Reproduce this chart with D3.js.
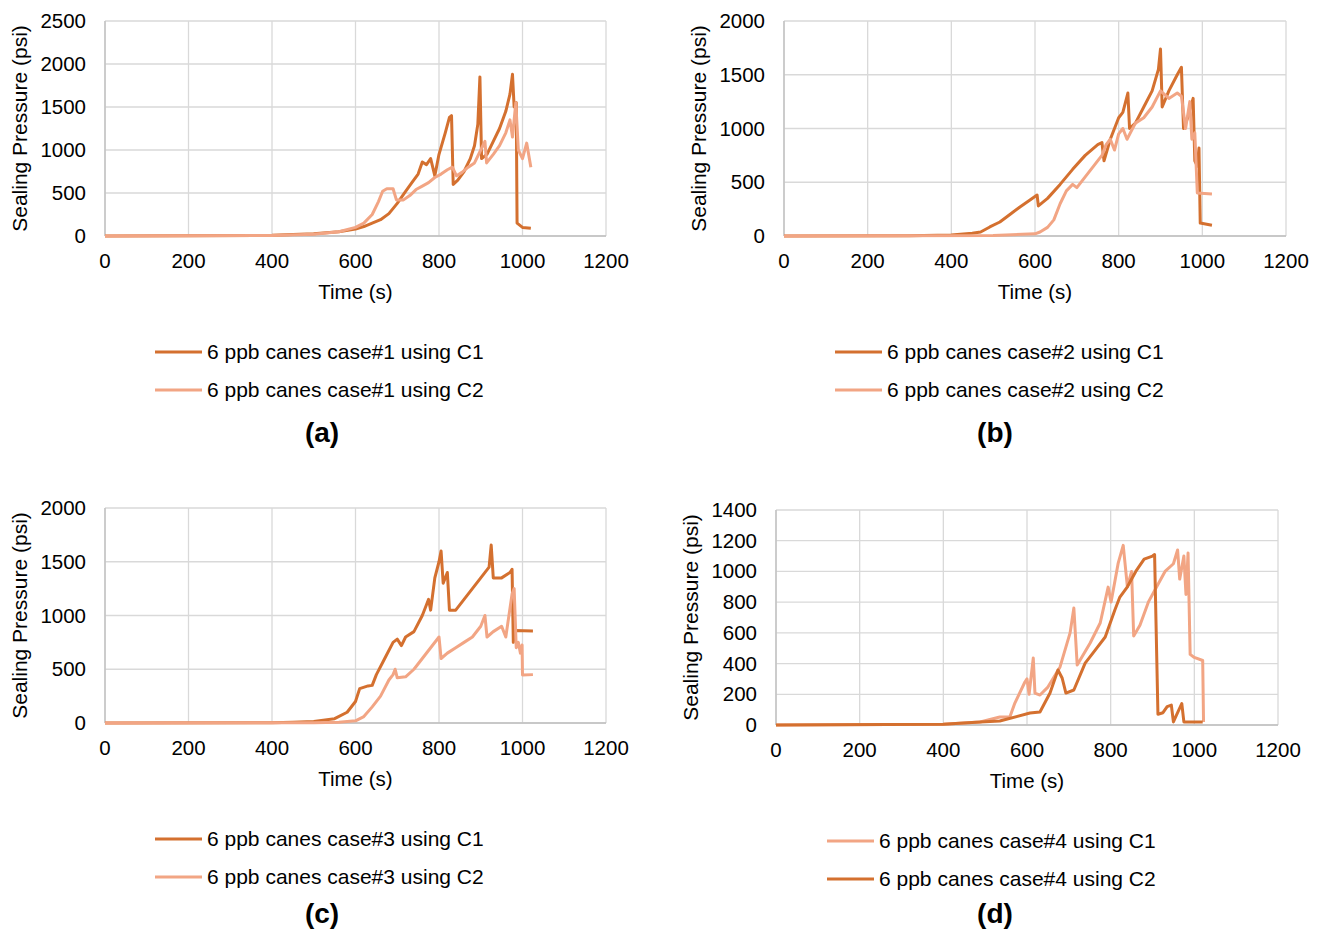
<!DOCTYPE html>
<html>
<head>
<meta charset="utf-8">
<script src="https://cdn.jsdelivr.net/npm/d3@7"></script>
<style>
  body { margin: 0; background: #fff; }
  svg text { font-family: "Liberation Sans", Arial, sans-serif; fill: #000; }
</style>
</head>
<body>
<div id="chart"></div>
<script>
// Data: [time (s), pressure (psi)]
const caseA_C1 = [[0,0],[200,2],[400,8],[500,25],[560,50],[600,80],[620,110],[640,150],[660,190],[680,260],[700,380],[720,520],[735,620],[750,720],[760,860],[770,830],[780,900],[790,700],[800,950],[815,1200],[825,1380],[830,1400],[834,600],[845,650],[860,750],[875,900],[885,1050],[893,1300],[898,1850],[902,900],[915,950],[930,1100],[945,1250],[960,1450],[970,1650],[976,1880],[980,1500],[985,1550],[987,150],[1000,100],[1020,90]];
const caseA_C2 = [[0,0],[400,5],[500,20],[560,50],[600,100],[620,150],[640,250],[655,400],[665,520],[675,550],[690,550],[698,420],[715,420],[730,470],[745,540],[760,580],[775,620],[790,680],[805,720],[820,770],[832,800],[842,700],[855,740],[870,800],[885,850],[900,1000],[910,1100],[914,850],[930,950],[945,1050],[960,1200],[970,1350],[976,1150],[984,1550],[990,1000],[1000,900],[1010,1080],[1020,800]];

const caseB_C1 = [[0,0],[300,3],[400,10],[450,25],[470,37],[492,84],[516,130],[540,200],[564,270],[588,335],[605,381],[608,280],[630,350],[660,480],[690,620],[720,750],[750,850],[760,870],[765,700],[780,900],[800,1100],[810,1150],[822,1330],[826,1000],[840,1050],[860,1200],[880,1350],[895,1550],[900,1740],[904,1200],[920,1350],[940,1500],[950,1570],[955,1000],[965,1100],[978,1280],[982,700],[988,650],[992,818],[995,120],[1023,100]];
const caseB_C2 = [[0,0],[500,5],[600,20],[612,37],[630,80],[645,150],[660,300],[675,420],[690,480],[700,450],[720,550],[740,650],[760,750],[770,850],[780,900],[790,800],[800,950],[810,1000],[820,900],[840,1050],[860,1100],[880,1200],[900,1350],[920,1280],[940,1330],[950,1300],[960,1000],[970,1250],[975,900],[982,960],[988,400],[1023,390]];

const caseC_C1 = [[0,0],[400,3],[450,8],[500,15],[550,40],[580,100],[600,200],[610,320],[630,345],[640,350],[650,450],[670,600],[690,750],[700,780],[710,720],[720,800],[740,850],[760,1000],[770,1100],[775,1150],[780,1050],[790,1350],[800,1500],[805,1600],[810,1300],[820,1400],[825,1050],[840,1050],[860,1150],[880,1250],[900,1350],[920,1450],[925,1655],[930,1350],[950,1350],[970,1400],[975,1430],[978,750],[981,860],[1025,856]];
const caseC_C2 = [[0,0],[500,3],[560,8],[600,20],[620,60],[640,150],[660,250],[680,400],[690,450],[695,500],[700,420],[720,430],[740,500],[760,600],[780,700],[800,800],[805,600],[820,650],[840,700],[860,750],[880,800],[900,900],[910,1000],[915,800],[930,850],[950,900],[960,800],[975,1200],[980,1250],[985,700],[990,750],[995,650],[999,725],[1000,446],[1025,450]];

const caseD_C1 = [[0,0],[400,5],[488,20],[535,52],[559,52],[571,143],[595,280],[600,300],[605,200],[615,436],[619,208],[631,195],[650,247],[679,378],[703,600],[712,762],[720,390],[751,534],[775,664],[794,898],[801,801],[818,1054],[830,1170],[840,900],[850,1000],[855,580],[870,650],[890,800],[910,900],[930,1000],[950,1050],[960,1140],[965,950],[975,1100],[980,850],[985,1120],[990,460],[1000,440],[1020,420],[1022,20]];
const caseD_C2 = [[0,0],[400,5],[488,20],[535,26],[607,78],[631,85],[655,208],[674,358],[684,306],[693,208],[712,228],[739,403],[763,488],[787,573],[810,749],[822,833],[840,900],[860,1000],[880,1080],[900,1100],[905,1110],[913,70],[925,80],[935,120],[945,130],[950,20],[960,80],[970,140],[975,20],[1020,20]];

const xTicks = [0, 200, 400, 600, 800, 1000, 1200];

const dark = "#D4702F",
    light = "#F2A584";

const svg = d3
    .select("#chart")
    .append("svg")
    .attr("width", 1322)
    .attr("height", 929);

// Panel layout
const panels = [
    { left: 105, right: 606, top: 21, bottom: 236, yMax: 2500, yStep: 500,
      series: [{ data: caseA_C1, color: dark, label: "6 ppb canes case#1 using C1" },
               { data: caseA_C2, color: light, label: "6 ppb canes case#1 using C2" }],
      legX: 155, legY: 352, capX: 322, capY: 432, cap: "(a)" },
    { left: 784, right: 1286, top: 21, bottom: 236, yMax: 2000, yStep: 500,
      series: [{ data: caseB_C1, color: dark, label: "6 ppb canes case#2 using C1" },
               { data: caseB_C2, color: light, label: "6 ppb canes case#2 using C2" }],
      legX: 835, legY: 352, capX: 995, capY: 432, cap: "(b)" },
    { left: 105, right: 606, top: 508, bottom: 723, yMax: 2000, yStep: 500,
      series: [{ data: caseC_C1, color: dark, label: "6 ppb canes case#3 using C1" },
               { data: caseC_C2, color: light, label: "6 ppb canes case#3 using C2" }],
      legX: 155, legY: 839, capX: 322, capY: 913, cap: "(c)" },
    { left: 776, right: 1278, top: 510, bottom: 725, yMax: 1400, yStep: 200,
      series: [{ data: caseD_C1, color: light, label: "6 ppb canes case#4 using C1" },
               { data: caseD_C2, color: dark, label: "6 ppb canes case#4 using C2" }],
      legX: 827, legY: 841, capX: 995, capY: 913, cap: "(d)" },
];

panels.forEach((p) => {
    const x = d3.scaleLinear().domain([0, 1200]).range([p.left, p.right]);
    const y = d3.scaleLinear().domain([0, p.yMax]).range([p.bottom, p.top]);
    const yTicks = d3.range(0, p.yMax + 1, p.yStep);
    const g = svg.append("g");

    // Gridlines
    g.selectAll(".hg")
        .data(yTicks)
        .enter()
        .append("line")
        .attr("x1", p.left)
        .attr("x2", p.right)
        .attr("y1", (d) => y(d))
        .attr("y2", (d) => y(d))
        .style("stroke", "#d9d9d9")
        .style("stroke-width", 1.3);
    g.selectAll(".vg")
        .data(xTicks)
        .enter()
        .append("line")
        .attr("x1", (d) => x(d))
        .attr("x2", (d) => x(d))
        .attr("y1", p.top)
        .attr("y2", p.bottom)
        .style("stroke", "#d9d9d9")
        .style("stroke-width", 1.3);

    // Axis lines
    g.append("line")
        .attr("x1", p.left).attr("x2", p.left)
        .attr("y1", p.top).attr("y2", p.bottom)
        .style("stroke", "#bfbfbf").style("stroke-width", 1.3);
    g.append("line")
        .attr("x1", p.left).attr("x2", p.right)
        .attr("y1", p.bottom).attr("y2", p.bottom)
        .style("stroke", "#bfbfbf").style("stroke-width", 1.3);

    // Tick labels
    g.selectAll(".yl")
        .data(yTicks)
        .enter()
        .append("text")
        .attr("x", p.left - 19)
        .attr("y", (d) => y(d) + 7)
        .attr("text-anchor", "end")
        .style("font-size", "20.5px")
        .text((d) => d);
    g.selectAll(".xl")
        .data(xTicks)
        .enter()
        .append("text")
        .attr("x", (d) => x(d))
        .attr("y", p.bottom + 32)
        .attr("text-anchor", "middle")
        .style("font-size", "20.5px")
        .text((d) => d);

    // Axis titles
    g.append("text")
        .attr("x", (p.left + p.right) / 2)
        .attr("y", p.bottom + 63)
        .attr("text-anchor", "middle")
        .style("font-size", "20.5px")
        .text("Time (s)");
    g.append("text")
        .attr("transform", `translate(${p.left - 78},${(p.top + p.bottom) / 2}) rotate(-90)`)
        .attr("text-anchor", "middle")
        .style("font-size", "21px")
        .text("Sealing Pressure (psi)");

    // Lines
    const line = d3
        .line()
        .x((d) => x(d[0]))
        .y((d) => y(d[1]));
    p.series.forEach((s) => {
        g.append("path")
            .datum(s.data)
            .attr("d", line)
            .style("fill", "none")
            .style("stroke", s.color)
            .style("stroke-width", 3)
            .style("stroke-linejoin", "round");
    });

    // Legend
    p.series.forEach((s, i) => {
        const ly = p.legY + i * 38;
        g.append("line")
            .attr("x1", p.legX).attr("x2", p.legX + 47)
            .attr("y1", ly).attr("y2", ly)
            .style("stroke", s.color)
            .style("stroke-width", 3);
        g.append("text")
            .attr("x", p.legX + 52)
            .attr("y", ly + 7)
            .style("font-size", "21px")
            .text(s.label);
    });

    // Caption
    g.append("text")
        .attr("x", p.capX)
        .attr("y", p.capY + 10)
        .attr("text-anchor", "middle")
        .style("font-size", "28px")
        .style("font-weight", "bold")
        .text(p.cap);
});
</script>
</body>
</html>
